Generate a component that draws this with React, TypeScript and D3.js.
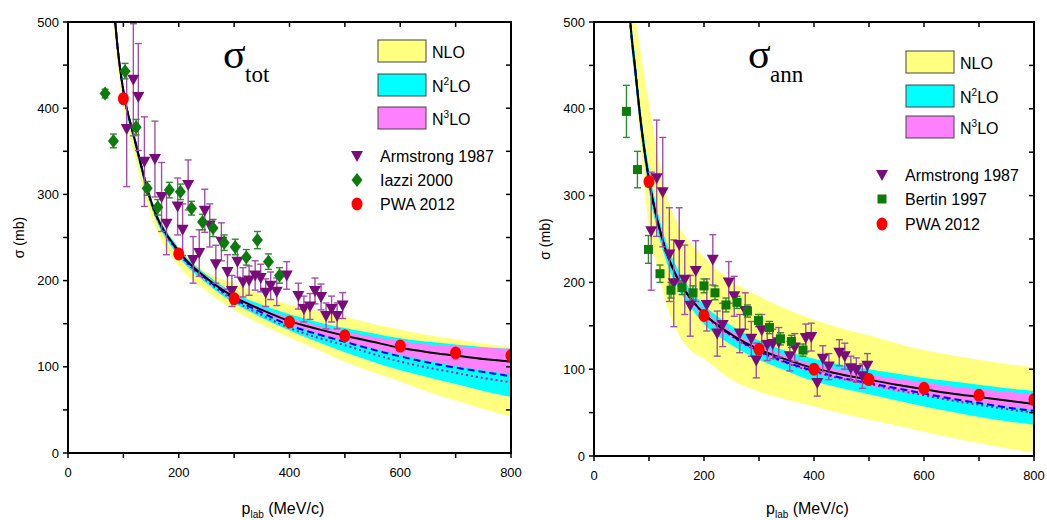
import React from "react";
import * as d3 from "d3";

// ---------- sigma_tot panel (left) ----------
const totBandP = [80, 90, 100, 120, 150, 200, 250, 300, 350, 400, 450, 500, 550, 600, 650, 700, 750, 800];
const totNLOLo = [515, 445, 402, 345, 275, 217, 188, 166, 149, 134, 120, 106, 94, 83, 71, 61, 51, 42];
const totNLOHi = [548, 474, 425, 370, 297, 239, 210, 197, 184, 172, 165, 158, 150, 143, 137, 132, 127, 123];
const totN2LOLo = [535, 462, 414, 358, 286, 228, 197, 174, 157, 142, 129, 117, 106, 96, 88, 80, 72, 65];
const totN2LOHi = [545, 472, 424, 369, 296, 238, 207, 186, 172, 161, 152, 145, 139, 133, 129, 126, 123, 121];
const totN3LOLo = [538, 466, 418, 363, 290, 232, 201, 179, 163, 149, 138, 129, 121, 114, 107, 101, 96, 91];
const totN3LOHi = [542, 470, 422, 367, 294, 236, 205, 184, 168, 157, 148, 141, 135, 130, 126, 124, 122, 121];
const totLineSolid = [540, 468, 420, 365, 292, 234, 203, 181, 166, 153, 144, 136, 129, 122, 117, 113, 109, 106];
const totLineDash = [540, 468, 420, 365, 292, 233, 202, 179, 163, 148, 138, 129, 120, 112, 105, 99, 94, 89];
const totLineDot = [540, 468, 420, 365, 291, 232, 200, 177, 160, 145, 134, 125, 115, 106, 99, 93, 87, 82];

const totArmP = [106, 118, 127, 138, 157, 169, 178, 198, 207, 217, 226, 237, 247, 256, 267, 277, 288, 296, 306, 316, 327, 338, 348, 357, 366, 377, 395, 416, 426, 437, 446, 457, 466, 476, 486, 496];
const totArmS = [376, 433, 413, 338, 341, 297, 266, 286, 259, 311, 224, 232, 281, 264, 219, 245, 210, 188, 222, 198, 200, 206, 203, 186, 194, 187, 206, 182, 167, 170, 188, 181, 159, 167, 159, 171];
const totArmE = [67, 65, 62, 52, 44, 40, 36, 33, 30, 29, 27, 27, 25, 25, 22, 22, 20, 18, 18, 17, 17, 17, 16, 16, 16, 16, 16, 15, 15, 15, 15, 15, 15, 15, 15, 15];

const iazziP = [67, 82, 103, 123, 143, 162, 183, 203, 223, 243, 262, 282, 302, 322, 342, 362, 382];
const iazziS = [417, 362, 443, 378, 307, 285, 305, 303, 284, 268, 261, 244, 239, 227, 247, 222, 206];
const iazziE = [5, 8, 9, 9, 8, 9, 9, 9, 8, 9, 10, 9, 9, 9, 10, 9, 9];

const pwaP = [100, 200, 300, 400, 500, 600, 700, 800];
const pwaTotS = [411, 231, 179, 152, 136, 124, 116, 113];

// ---------- sigma_ann panel (right) ----------
const annBandP = [60, 66, 75, 85, 100, 115, 130, 150, 175, 200, 250, 300, 350, 400, 450, 500, 550, 600, 650, 700, 750, 800];
const annNLOLo = [530, 480, 428, 355, 262, 218, 178, 145, 122, 112, 88, 74, 65, 57, 49, 42, 35, 28, 21, 15, 9, 4];
const annNLOHi = [610, 570, 510, 465, 405, 350, 305, 270, 246, 229, 202, 184, 169, 157, 147, 139, 130, 122, 116, 111, 106, 102];
const annN2LOLo = [545, 485, 430, 372, 305, 260, 227, 196, 172, 152, 128, 111, 98, 86, 78, 71, 64, 57, 51, 45, 40, 36];
const annN2LOHi = [575, 515, 460, 398, 331, 284, 249, 218, 192, 174, 150, 133, 121, 112, 105, 100, 95, 90, 86, 82, 78, 75];
const annN3LOLo = [556, 496, 441, 381, 314, 268, 234, 203, 178, 160, 136, 119, 106, 96, 88, 81, 75, 70, 65, 61, 57, 53];
const annN3LOHi = [564, 504, 449, 389, 322, 276, 242, 211, 186, 168, 144, 127, 115, 106, 99, 94, 89, 85, 80, 77, 74, 71];
const annLineSolid = [560, 500, 445, 385, 318, 272, 238, 207, 182, 164, 140, 123, 111, 101, 94, 88, 82, 77, 72, 68, 64, 60];
const annLineDash = [560, 500, 445, 385, 318, 272, 238, 207, 182, 164, 139, 121, 108, 98, 90, 84, 78, 72, 66, 61, 56, 52];
const annLineDot = [560, 500, 445, 385, 318, 272, 238, 207, 182, 163, 138, 120, 107, 97, 89, 83, 76, 70, 64, 59, 54, 50];

const annArmP = [104, 114, 125, 137, 145, 155, 165, 175, 185, 205, 216, 224, 234, 245, 255, 265, 275, 286, 295, 305, 315, 325, 336, 356, 365, 385, 395, 406, 416, 427, 446, 456, 467, 477, 488, 497];
const annArmS = [259, 320, 304, 232, 199, 243, 203, 173, 213, 174, 226, 141, 151, 200, 184, 141, 167, 135, 110, 145, 128, 129, 131, 115, 125, 136, 137, 84, 112, 103, 119, 115, 101, 99, 92, 104];
const annArmE = [68, 67, 63, 54, 50, 43, 40, 35, 35, 30, 29, 26, 25, 24, 23, 22, 21, 20, 20, 18, 18, 17, 17, 17, 16, 16, 16, 15, 15, 15, 15, 15, 14, 14, 14, 14];

const bertinP = [59, 79, 99, 120, 140, 160, 180, 200, 220, 240, 260, 279, 299, 319, 339, 359, 380];
const bertinS = [397, 330, 238, 210, 191, 194, 188, 196, 188, 174, 177, 167, 156, 148, 135, 132, 122];
const bertinE = [30, 21, 16, 10, 9, 8, 8, 8, 8, 8, 7, 7, 7, 7, 7, 7, 7];

const pwaAnnS = [316, 162, 123, 100, 88, 78, 70, 65];

const xTicks = d3.range(0, 801, 100);
const yTicks = d3.range(0, 501, 50);
const bandNames = ["NLO", "N2LO", "N3LO"];

const YELLOW = "#ffff80";
const CYAN = "#00ffff";
const PINK = "#ff80ff";
const PURPLE = "#7a0c7a";
const GREEN = "#0c7a0c";
const RED = "#ff0000";
const SANS = "Liberation Sans, Arial, sans-serif";
const SERIF = "Liberation Serif, Times New Roman, serif";

function tri(cx, cy) {
  return `M${cx - 6},${cy - 5}L${cx + 6},${cy - 5}L${cx},${cy + 6}Z`;
}
function diamond(cx, cy) {
  return `M${cx},${cy - 7}L${cx + 5.5},${cy}L${cx},${cy + 7}L${cx - 5.5},${cy}Z`;
}

function ErrBars({ x, y, P, S, E, color }) {
  return (
    <g stroke={color} strokeWidth={1.4}>
      {P.map((p, i) => {
        const cx = x(p);
        const top = y(S[i] + E[i]);
        const bot = y(S[i] - E[i]);
        return (
          <g key={i}>
            <line x1={cx} x2={cx} y1={top} y2={bot} />
            <line x1={cx - 3.5} x2={cx + 3.5} y1={top} y2={top} />
            <line x1={cx - 3.5} x2={cx + 3.5} y1={bot} y2={bot} />
          </g>
        );
      })}
    </g>
  );
}

function BandLabel({ name, x, y }) {
  if (name === "NLO") return <text x={x} y={y} fontFamily={SANS} fontSize={16}>NLO</text>;
  const n = name === "N2LO" ? "2" : "3";
  return (
    <text x={x} y={y} fontFamily={SANS} fontSize={16}>
      N<tspan fontSize={10} dy={-7}>{n}</tspan>
      <tspan dy={7}>LO</tspan>
    </text>
  );
}

function Panel(props) {
  const { id, left, right, bottom, top, bandP, bands, lines, arm, other, otherShape, otherName, pwa, sub, titleX, legend } = props;
  const x = d3.scaleLinear().domain([0, 800]).range([left, right]);
  const y = d3.scaleLinear().domain([0, 500]).range([bottom, top]);
  const area = (lo, hi) =>
    d3.area<number>()
      .x(p => x(p))
      .y0((_, i) => y(lo[i]))
      .y1((_, i) => y(hi[i]))
      .curve(d3.curveMonotoneX)(bandP);
  const line = vals =>
    d3.line<number>()
      .x(p => x(p))
      .y((_, i) => y(vals[i]))
      .curve(d3.curveMonotoneX)(bandP);
  const bandColors = [YELLOW, CYAN, PINK];

  return (
    <g>
      <defs>
        <clipPath id={id}>
          <rect x={left} y={top} width={right - left} height={bottom - top} />
        </clipPath>
      </defs>
      <g clipPath={`url(#${id})`}>
        {bands.map((b, i) => (
          <path key={i} d={area(b[0], b[1])} fill={bandColors[i]} stroke="none" />
        ))}
        <path d={line(lines[2])} fill="none" stroke="#a020a0" strokeWidth={2} strokeDasharray="2,3" />
        <path d={line(lines[1])} fill="none" stroke="#0000ff" strokeWidth={2} strokeDasharray="7,4" />
        <path d={line(lines[0])} fill="none" stroke="#000" strokeWidth={2} />
        <ErrBars x={x} y={y} P={arm.P} S={arm.S} E={arm.E} color="#a050a8" />
        <ErrBars x={x} y={y} P={other.P} S={other.S} E={other.E} color="#2e8b2e" />
        {arm.P.map((p, i) => (
          <path key={"a" + i} d={tri(x(p), y(arm.S[i]))} fill={PURPLE} />
        ))}
        {other.P.map((p, i) =>
          otherShape === "diamond" ? (
            <path key={"o" + i} d={diamond(x(p), y(other.S[i]))} fill={GREEN} />
          ) : (
            <rect key={"o" + i} x={x(p) - 4.5} y={y(other.S[i]) - 4.5} width={9} height={9} fill={GREEN} />
          )
        )}
        {pwaP.map((p, i) => (
          <ellipse key={"p" + i} cx={x(p)} cy={y(pwa[i])} rx={5.5} ry={6.5} fill={RED} />
        ))}
      </g>

      {/* frame */}
      <rect x={left} y={top} width={right - left} height={bottom - top} fill="none" stroke="#000" strokeWidth={2} />

      {/* x ticks */}
      {xTicks.map(t => (
        <g key={"x" + t}>
          <line x1={x(t)} x2={x(t)} y1={bottom} y2={bottom + 5} stroke="#000" strokeWidth={1.5} />
          <line x1={x(t)} x2={x(t)} y1={top} y2={top + 5} stroke="#000" strokeWidth={1.5} />
          {t % 200 === 0 && (
            <text x={x(t)} y={bottom + 24} textAnchor="middle" fontFamily={SANS} fontSize={13}>{t}</text>
          )}
        </g>
      ))}
      {/* y ticks */}
      {yTicks.map(t => (
        <g key={"y" + t}>
          <line x1={left - 5} x2={left} y1={y(t)} y2={y(t)} stroke="#000" strokeWidth={1.5} />
          <line x1={right - 5} x2={right} y1={y(t)} y2={y(t)} stroke="#000" strokeWidth={1.5} />
          {t % 100 === 0 && (
            <text x={left - 9} y={y(t) + 4.5} textAnchor="end" fontFamily={SANS} fontSize={13}>{t}</text>
          )}
        </g>
      ))}

      {/* axis titles */}
      <text transform={`translate(${left - 44},${(top + bottom) / 2}) rotate(-90)`} textAnchor="middle" fontFamily={SANS} fontSize={14}>
        σ (mb)
      </text>
      <text x={(left + right) / 2 - 48} y={514} fontFamily={SANS} fontSize={16}>
        p<tspan fontSize={10} dy={4}>lab</tspan>
        <tspan dy={-4}> (MeV/c)</tspan>
      </text>

      {/* panel title */}
      <text x={titleX} y={68} fontFamily={SERIF} fontSize={42}>σ</text>
      <text x={titleX + 22} y={82} fontFamily={SERIF} fontSize={23}>{sub}</text>

      {/* legend */}
      {bandNames.map((n, i) => (
        <g key={n}>
          <rect x={legend.bx} y={legend.by[i]} width={48} height={22} fill={bandColors[i]} stroke="#444" strokeWidth={1} />
          <BandLabel name={n} x={legend.bx + 54} y={legend.by[i] + 18} />
        </g>
      ))}
      <path d={tri(legend.mx, legend.my[0])} fill={PURPLE} />
      {otherShape === "diamond" ? (
        <path d={diamond(legend.mx, legend.my[1])} fill={GREEN} />
      ) : (
        <rect x={legend.mx - 4.5} y={legend.my[1] - 4.5} width={9} height={9} fill={GREEN} />
      )}
      <ellipse cx={legend.mx} cy={legend.my[2]} rx={5.5} ry={6.5} fill={RED} />
      {["Armstrong 1987", otherName, "PWA 2012"].map((s, i) => (
        <text key={s} x={legend.mx + 23} y={legend.my[i] + 6} fontFamily={SANS} fontSize={16}>{s}</text>
      ))}
    </g>
  );
}

export default function App() {
  return (
    <svg width={1047} height={520} style={{ position: "absolute", left: 0, top: 0, background: "#fff" }}>
      <Panel
        id="clipTot"
        left={68}
        right={511}
        bottom={453}
        top={22}
        bandP={totBandP}
        bands={[[totNLOLo, totNLOHi], [totN2LOLo, totN2LOHi], [totN3LOLo, totN3LOHi]]}
        lines={[totLineSolid, totLineDash, totLineDot]}
        arm={{ P: totArmP, S: totArmS, E: totArmE }}
        other={{ P: iazziP, S: iazziS, E: iazziE }}
        otherShape="diamond"
        otherName="Iazzi 2000"
        pwa={pwaTotS}
        sub="tot"
        titleX={223}
        legend={{ bx: 378, by: [40, 74, 107], mx: 357, my: [156, 180, 204] }}
      />
      <Panel
        id="clipAnn"
        left={594}
        right={1034}
        bottom={456}
        top={22}
        bandP={annBandP}
        bands={[[annNLOLo, annNLOHi], [annN2LOLo, annN2LOHi], [annN3LOLo, annN3LOHi]]}
        lines={[annLineSolid, annLineDash, annLineDot]}
        arm={{ P: annArmP, S: annArmS, E: annArmE }}
        other={{ P: bertinP, S: bertinS, E: bertinE }}
        otherShape="square"
        otherName="Bertin 1997"
        pwa={pwaAnnS}
        sub="ann"
        titleX={748}
        legend={{ bx: 906, by: [51, 85, 116], mx: 882, my: [175, 199, 224] }}
      />
    </svg>
  );
}
